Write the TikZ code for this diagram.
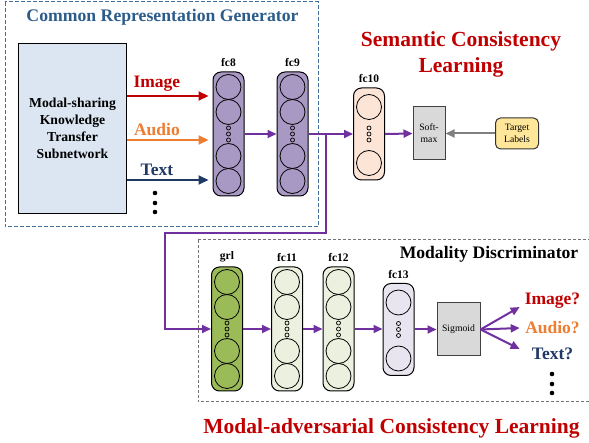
\documentclass[tikz,border=0pt]{standalone}
\usepackage{fontspec}
\setmainfont{Liberation Serif}
\usetikzlibrary{positioning,arrows.meta}

\definecolor{genblue}{HTML}{2B5C8A}
\definecolor{boxblue}{HTML}{41719C}
\definecolor{subnetfill}{HTML}{DCE6F2}
\definecolor{fcpurple}{HTML}{A898C4}
\definecolor{fcpeach}{HTML}{FCE4D6}
\definecolor{grlgreen}{HTML}{9BBB59}
\definecolor{fcgreen}{HTML}{EBF1DE}
\definecolor{fclilac}{HTML}{E9E5F0}
\definecolor{flowpurple}{HTML}{7030A0}
\definecolor{imgred}{HTML}{C00000}
\definecolor{audorange}{HTML}{ED7D31}
\definecolor{txtnavy}{HTML}{1F3864}
\definecolor{labelyellow}{HTML}{FFE699}

\begin{document}
\begin{tikzpicture}[x=1pt, y=-1pt, line width=1pt,
  layer/.style={draw, fill=#1, rounded corners=8pt, minimum width=31pt, inner sep=0pt},
  unit/.style={draw, circle, minimum size=25pt, inner sep=0pt, line width=0.8pt},
  ring/.style={draw, circle, minimum size=4pt, inner sep=0pt, line width=0.7pt},
  layername/.style={font=\fontsize{11.5}{12}\selectfont\bfseries, above=1pt of #1},
  opbox/.style={draw=black!75, fill=black!15, inner sep=0pt, align=center,
    font=\fontsize{9.7}{12}\selectfont},
  flow/.style={draw=flowpurple, line width=2pt, -{Triangle[length=9pt, width=8pt]}},
  modality/.style={draw=#1, line width=2pt, -{Triangle[length=10pt, width=9pt]}},
  title/.style={font=\fontsize{21.5}{26}\selectfont\bfseries, text=imgred, align=center},
  answer/.style={font=\fontsize{17.5}{20}\selectfont\bfseries, text=#1,
    text width=58pt, align=center}
]

\useasboundingbox (0,0) rectangle (589,443);

% Common representation generator
\draw[boxblue, dash pattern=on 4pt off 2pt] (5,2) rectangle (318,227);
\node[anchor=base, text=genblue, font=\fontsize{17.7}{20}\selectfont\bfseries]
  (gentitle) at (162.5,21.5) {Common Representation Generator};

\node[draw, fill=subnetfill, minimum width=108pt, minimum height=170pt, align=center,
  font=\fontsize{13.7}{16.7}\selectfont\bfseries] (subnet) at (72.5,128.3)
  {Modal-sharing\\Knowledge\\Transfer\\Subnetwork};

% Layers with four units
\foreach \name/\x/\y/\col in {fc8/228.5/134/fcpurple, fc9/292.5/134/fcpurple,
    grl/227/329/grlgreen, fc11/287/329/fcgreen, fc12/338.5/329/fcgreen}
{
  \node[layer=\col, minimum height=124pt] (\name) at (\x,\y) {};
  \node[layername=\name] (\name-name) {\name};
  \foreach \dy [count=\i] in {-47,-22,22,47}
    \node[unit] (\name-u\i) at (\x,\y+\dy) {};
  \foreach \dy [count=\i] in {-6,0,6}
    \node[ring] (\name-r\i) at (\x,\y+\dy) {};
}

% Layers with two units
\foreach \name/\x/\y/\col in {fc10/369/134/fcpeach, fc13/398.5/329.5/fclilac}
{
  \node[layer=\col, minimum height=92pt] (\name) at (\x,\y) {};
  \node[layername=\name] (\name-name) {\name};
  \foreach \dy [count=\i] in {-27,29}
    \node[unit] (\name-u\i) at (\x,\y+\dy) {};
  \foreach \dy [count=\i] in {-6,0,6}
    \node[ring] (\name-r\i) at (\x,\y+\dy) {};
}

% Modality inputs
\foreach \lbl/\y/\col in {Image/96/imgred, Audio/140/audorange, Text/180/txtnavy}
{
  \coordinate (in-\lbl) at (0,\y);
  \draw[modality=\col, shorten >=4pt] (subnet.east |- in-\lbl) -- (fc8.west |- in-\lbl)
    node[pos=0.35, above, text=\col, font=\fontsize{17.5}{20}\selectfont\bfseries] {\lbl};
}
\foreach \dy in {0,10,19}
  \fill (155,193+\dy) circle (2.3pt);

% Semantic consistency learning
\node[title] (semtitle) at (461,54) {Semantic Consistency\\Learning};
\node[opbox, minimum width=32pt, minimum height=53pt] (softmax) at (429,133.5) {Soft-\\max};
\node[draw=black!80, fill=labelyellow, rounded corners=5pt, minimum width=43pt,
  minimum height=31pt, inner sep=0pt, align=center, font=\fontsize{9.7}{12}\selectfont]
  (target) at (517,133.5) {Target\\Labels};

\coordinate (split) at (326,134);
\coordinate (back) at (165,233);
\draw[flow] (fc8.east |- split) -- (fc9.west |- split);
\draw[flow] (fc9.east |- split) -- (fc10.west);
\draw[flow] (fc10.east) -- (softmax.west);
\draw[black!50, line width=2pt, -{Triangle[length=9pt, width=8pt]}] (target.west) -- (softmax.east);

% Modality discriminator
\draw[black!55, dash pattern=on 3pt off 2pt] (198,240) rectangle (595,402);
\node[anchor=base, font=\fontsize{17.6}{20}\selectfont\bfseries] (disctitle) at (489,259)
  {Modality Discriminator};
\node[opbox, minimum width=43pt, minimum height=53pt] (sigmoid) at (458.5,329.5) {Sigmoid};

\draw[flow] (split) |- (back) |- (grl.west);
\foreach \a/\b in {grl/fc11, fc11/fc12, fc12/fc13, fc13/sigmoid}
  \draw[flow] (\a.east) -- (\a.east -| \b.west);

% Sigmoid outputs
\foreach \name/\lbl/\y/\dy/\col in {qimage/Image?/301/-6/imgred, qaudio/Audio?/328/0/audorange,
    qtext/Text?/354/5/txtnavy}
{
  \node[answer=\col] (\name) at (552.5,\y) {\lbl};
  \draw[flow] (sigmoid.east) -- ([yshift=\dy pt]\name.west);
}
\foreach \dy in {0,10,19}
  \fill (552,374+\dy) circle (2.3pt);

% Modal-adversarial consistency learning
\node[title, anchor=base] (advtitle) at (391.5,433) {Modal-adversarial Consistency Learning};

\end{tikzpicture}
\end{document}
